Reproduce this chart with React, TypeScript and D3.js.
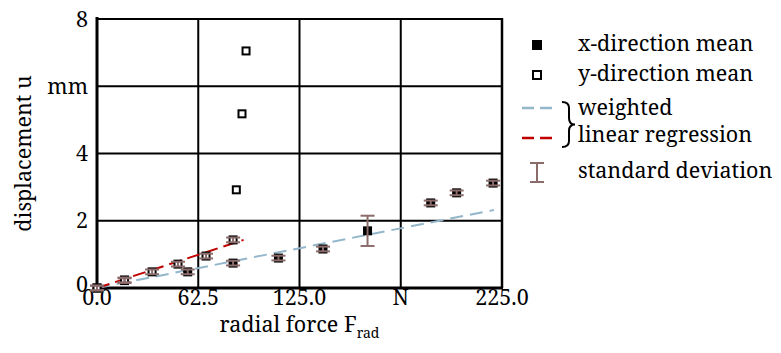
import * as d3 from "d3";

// x-direction mean (filled squares)
const xDirForce = [0, 17, 56, 84, 112, 139.5, 167, 206, 222, 244.5];
const xDirDisp = [0, 0.22, 0.48, 0.74, 0.89, 1.16, 1.7, 2.53, 2.83, 3.12];
const xDirStd = [0.07, 0.07, 0.07, 0.07, 0.07, 0.07, 0.45, 0.07, 0.07, 0.07];

// y-direction mean (open squares)
const yDirForce = [0, 17, 34, 50, 67.3, 84, 86, 89.5, 92];
const yDirDisp = [0, 0.24, 0.48, 0.71, 0.95, 1.43, 2.92, 5.18, 7.05];
const yDirStd = [0.07, 0.07, 0.07, 0.07, 0.07, 0.07, 0, 0, 0];

// weighted linear regression endpoints
const regXForce = [0, 245];
const regXDisp = [0, 2.32];
const regYForce = [0, 90.5];
const regYDisp = [0, 1.43];

const xTicks = [0, 62.5, 125, 187.5, 250];
const xTickLabels = ["0.0", "62.5", "125.0", "N", "225.0"];
const yTicks = [0, 2, 4, 6, 8];
const yTickLabels = ["0", "2", "4", "mm", "8"];

const legendItems = ["x-direction mean", "y-direction mean", "weighted", "linear regression", "standard deviation"];

const width = 781;
const height = 353;
const margin = { top: 19, right: 279, bottom: 65, left: 97 };
const txt = { fontFamily: '"Noto Serif", "DejaVu Serif", serif', fontSize: 21.5 };
const blue = "#93b6ca";
const red = "#c00000";
const brown = "#8c6b6b";

export default function App() {
  const x = d3.scaleLinear().domain([0, 250]).range([margin.left, width - margin.right]);
  const y = d3.scaleLinear().domain([0, 8]).range([height - margin.bottom, margin.top]);
  const line = d3
    .line<[number, number]>()
    .x((d) => x(d[0]))
    .y((d) => y(d[1]));

  const xPts = xDirForce.map((f, i) => ({ f, u: xDirDisp[i], s: xDirStd[i] }));
  const yPts = yDirForce.map((f, i) => ({ f, u: yDirDisp[i], s: yDirStd[i] }));
  const ms = 9;
  const cap = 7;

  const x0 = x(0), x1 = x(250), y0 = y(0), y1 = y(8);

  return (
    <svg width={width} height={height} style={{ position: "absolute", left: 0, top: 0, background: "#fff" }}>
      {/* grid */}
      {yTicks.slice(1, -1).map((t) => (
        <line key={"gy" + t} x1={x0} x2={x1} y1={y(t)} y2={y(t)} stroke="#000" strokeWidth={2} />
      ))}
      {xTicks.slice(1, -1).map((t) => (
        <line key={"gx" + t} x1={x(t)} x2={x(t)} y1={y0} y2={y1} stroke="#000" strokeWidth={2} />
      ))}
      {/* frame */}
      <line x1={x0} x2={x1} y1={y1} y2={y1} stroke="#000" strokeWidth={2} />
      <line x1={x1} x2={x1} y1={y1 - 1} y2={y0} stroke="#000" strokeWidth={2.5} />
      <line x1={x0} x2={x0} y1={y1 - 2} y2={y0 + 1.5} stroke="#000" strokeWidth={3} />
      <line x1={x0 - 1.5} x2={x1 + 1} y1={y0} y2={y0} stroke="#000" strokeWidth={3} />

      {/* tick labels */}
      {yTicks.map((t, i) => (
        <text key={"ty" + t} style={txt} x={x0 - 9} y={y(t) - (t === 0 ? 4 : 0)} dy="0.35em" textAnchor="end">
          {yTickLabels[i]}
        </text>
      ))}
      {xTicks.map((t, i) => (
        <text key={"tx" + t} style={txt} x={x(t)} y={y0 + 17} textAnchor="middle">
          {xTickLabels[i]}
        </text>
      ))}

      {/* axis titles */}
      <text style={txt} x={x(125)} y={y0 + 44} textAnchor="middle">
        radial force F<tspan style={{ fontSize: 14 }} dy={6}>rad</tspan>
      </text>
      <text style={txt} transform={`translate(31,${y(4)}) rotate(-90)`} textAnchor="middle">
        displacement u
      </text>

      {/* regression lines */}
      <path
        d={line(regXForce.map((f, i) => [f, regXDisp[i]]) as [number, number][]) || ""}
        fill="none"
        stroke={blue}
        strokeWidth={2}
        strokeDasharray="13,7"
      />
      <path
        d={line(regYForce.map((f, i) => [f, regYDisp[i]]) as [number, number][]) || ""}
        fill="none"
        stroke={red}
        strokeWidth={2}
        strokeDasharray="13,6"
      />

      {/* markers */}
      {xPts.map((d, i) => (
        <rect key={"xp" + i} x={x(d.f) - ms / 2} y={y(d.u) - ms / 2} width={ms} height={ms} fill="#000" />
      ))}
      {yPts.map((d, i) => (
        <rect
          key={"yp" + i}
          x={x(d.f) - (ms - 2) / 2}
          y={y(d.u) - (ms - 2) / 2}
          width={ms - 2}
          height={ms - 2}
          fill="#fff"
          stroke="#000"
          strokeWidth={2}
        />
      ))}

      {/* error bars */}
      {[...xPts, ...yPts]
        .filter((d) => d.s > 0)
        .map((d, i) => {
          const cx = x(d.f);
          const ya = y(d.u + d.s);
          const yb = y(d.u - d.s);
          return (
            <g key={"eb" + i} stroke={brown} strokeWidth={2}>
              <line x1={cx} x2={cx} y1={ya} y2={yb} />
              <line x1={cx - cap} x2={cx + cap} y1={ya} y2={ya} />
              <line x1={cx - cap} x2={cx + cap} y1={yb} y2={yb} />
            </g>
          );
        })}

      {/* legend */}
      <g>
        <rect x={532} y={40} width={10} height={10} fill="#000" />
        <rect x={533} y={71} width={8} height={8} fill="#fff" stroke="#000" strokeWidth={2} />
        <line x1={522} x2={553} y1={108} y2={108} stroke={blue} strokeWidth={2.5} strokeDasharray="12,6" />
        <line x1={522} x2={553} y1={138} y2={138} stroke={red} strokeWidth={2.5} strokeDasharray="12,6" />
        <path
          d="M562,102 Q569,102 569,108 L569,118 Q569,124.5 575,124.5 Q569,124.5 569,131 L569,141 Q569,147 562,147"
          fill="none"
          stroke="#000"
          strokeWidth={2}
        />
        <g stroke={brown} strokeWidth={2}>
          <line x1={537} x2={537} y1={163} y2={182} />
          <line x1={530} x2={544} y1={163} y2={163} />
          <line x1={530} x2={544} y1={182} y2={182} />
        </g>
        {[51, 81, 115, 142, 178].map((yy, i) => (
          <text key={"lg" + i} style={txt} x={578} y={yy}>
            {legendItems[i]}
          </text>
        ))}
      </g>
    </svg>
  );
}
